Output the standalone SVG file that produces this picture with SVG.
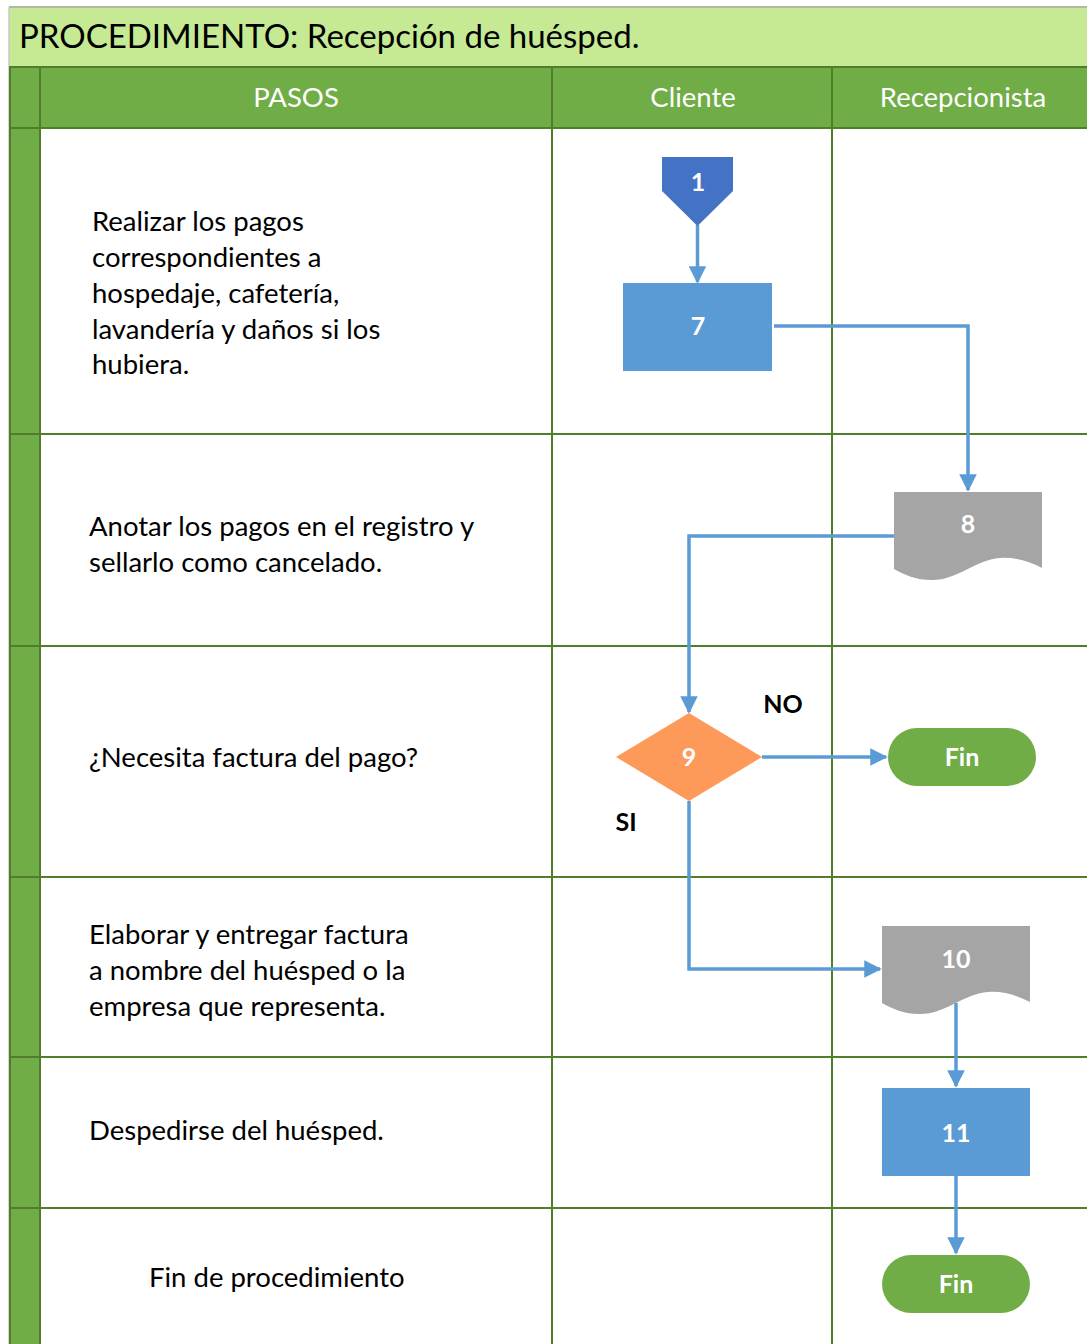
<svg xmlns="http://www.w3.org/2000/svg" width="1087" height="1344" viewBox="0 0 1087 1344">
<defs>
<marker id="ah" viewBox="0 0 10 10" refX="9" refY="5" markerWidth="5" markerHeight="5" markerUnits="strokeWidth" orient="auto">
<path d="M0,0 L10,5 L0,10 Z" fill="#5b9bd5"/>
</marker>
<style>
.grid{stroke:#507d2a;stroke-width:2;fill:none}
.step{font-family:Lato,"Open Sans",sans-serif;font-size:27.5px;fill:#000}
.hdr{font-family:Lato,"Open Sans",sans-serif;font-size:27.5px;fill:#fff;text-anchor:middle}
.lbl{font-family:Lato,"Open Sans",sans-serif;font-size:25px;font-weight:bold;fill:#fff;text-anchor:middle}
.cond{font-family:Lato,"Open Sans",sans-serif;font-size:25px;font-weight:bold;fill:#000;text-anchor:middle}
.conn{stroke:#5b9bd5;stroke-width:3.5;fill:none;marker-end:url(#ah)}
</style>
</defs>
<rect width="1087" height="1344" fill="#fff"/>
<!-- title -->
<rect x="9" y="7" width="1078" height="60" fill="#c6e993"/>
<line x1="9" y1="7" x2="1087" y2="7" stroke="#b0b8a8" stroke-width="2"/>
<line x1="9" y1="7" x2="9" y2="1344" stroke="#c8c8c8" stroke-width="1.5"/>
<text x="19" y="48" font-family="Lato,'Open Sans',sans-serif" font-size="33" fill="#000">PROCEDIMIENTO: Recepción de huésped.</text>
<!-- header -->
<rect x="9" y="67" width="1078" height="61" fill="#70ad47"/>
<rect x="9" y="128" width="31" height="1216" fill="#70ad47"/>
<g class="grid">
<line x1="9" y1="67" x2="1087" y2="67"/>
<line x1="9" y1="128" x2="1087" y2="128"/>
<line x1="9" y1="434" x2="1087" y2="434"/>
<line x1="9" y1="646" x2="1087" y2="646"/>
<line x1="9" y1="877" x2="1087" y2="877"/>
<line x1="9" y1="1057" x2="1087" y2="1057"/>
<line x1="9" y1="1208" x2="1087" y2="1208"/>
<line x1="40" y1="67" x2="40" y2="1344"/>
<line x1="552" y1="67" x2="552" y2="1344"/>
<line x1="832" y1="67" x2="832" y2="1344"/>
<line x1="10" y1="67" x2="10" y2="1344"/>
</g>
<text class="hdr" x="296" y="107">PASOS</text>
<text class="hdr" x="693" y="107">Cliente</text>
<text class="hdr" x="963" y="107">Recepcionista</text>
<!-- steps -->
<text class="step" x="92" y="231">Realizar los pagos</text>
<text class="step" x="92" y="267">correspondientes a</text>
<text class="step" x="92" y="303">hospedaje, cafetería,</text>
<text class="step" x="92" y="339">lavandería y daños si los</text>
<text class="step" x="92" y="374">hubiera.</text>
<text class="step" x="89" y="536">Anotar los pagos en el registro y</text>
<text class="step" x="89" y="572">sellarlo como cancelado.</text>
<text class="step" x="89" y="767">¿Necesita factura del pago?</text>
<text class="step" x="89" y="944">Elaborar y entregar factura</text>
<text class="step" x="89" y="980">a nombre del huésped o la</text>
<text class="step" x="89" y="1016">empresa que representa.</text>
<text class="step" x="89" y="1140">Despedirse del huésped.</text>
<text class="step" x="149" y="1287">Fin de procedimiento</text>
<!-- connectors -->
<g id="connectors">
<path class="conn" d="M697.5,225 V282"/>
<path class="conn" d="M774,326 H968 V490"/>
<path class="conn" d="M894,536 H689 V712"/>
<path class="conn" d="M762,757 H886"/>
<path class="conn" d="M689,801 V969 H880"/>
<path class="conn" d="M956,1003 V1086"/>
<path class="conn" d="M956,1176 V1253"/>
</g>
<text class="cond" x="783" y="713">NO</text>
<text class="cond" x="626" y="831">SI</text>
<!-- nodes -->
<g id="n1">
<path d="M662,157 H733 V191 L697.5,226 L662,191 Z" fill="#4472c4"/>
<text class="lbl" x="698" y="191">1</text>
</g>
<g id="n7">
<rect x="623" y="283" width="149" height="88" fill="#5b9bd5"/>
<text class="lbl" x="698" y="335">7</text>
</g>
<g id="n8">
<path d="M894,492 H1042 V568 C1028,561 1015,557 1000,558 C975,560 958,580 932,580 C915,580 905,575 894,569 Z" fill="#a5a5a5"/>
<text class="lbl" x="968" y="533">8</text>
</g>
<g id="n9">
<path d="M689,713 L762,757 L689,801 L616,757 Z" fill="#fd9a5a"/>
<text class="lbl" x="689" y="766">9</text>
</g>
<g id="fin1">
<rect x="888" y="728" width="148" height="58" rx="29" fill="#70ad47"/>
<text class="lbl" x="962" y="766">Fin</text>
</g>
<g id="n10">
<path d="M882,926 H1030 V1002 C1016,995 1003,991 988,992 C963,994 946,1014 920,1014 C903,1014 893,1009 882,1003 Z" fill="#a5a5a5"/>
<text class="lbl" x="956" y="968">10</text>
</g>
<g id="n11">
<rect x="882" y="1088" width="148" height="88" fill="#5b9bd5"/>
<text class="lbl" x="956" y="1142">11</text>
</g>
<g id="fin2">
<rect x="882" y="1255" width="148" height="58" rx="29" fill="#70ad47"/>
<text class="lbl" x="956" y="1293">Fin</text>
</g>
</svg>
